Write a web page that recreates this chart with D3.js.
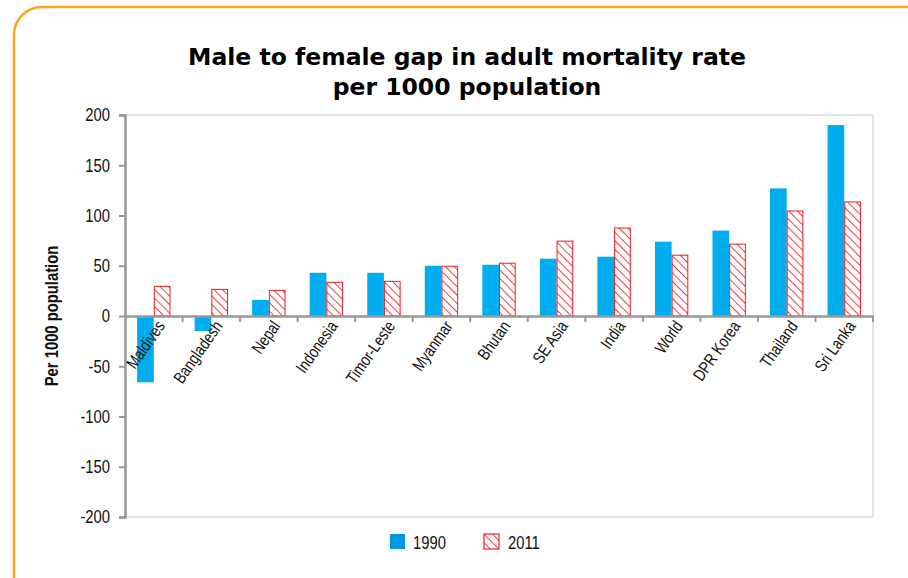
<!DOCTYPE html>
<html><head><meta charset="utf-8">
<script src="https://cdn.jsdelivr.net/npm/d3@7"></script>
<style>body{margin:0;background:#fff}</style>
</head><body>
<svg id="c" width="908" height="578"></svg>
<script>
const categories = ["Maldives","Bangladesh","Nepal","Indonesia","Timor-Leste","Myanmar","Bhutan","SE Asia","India","World","DPR Korea","Thailand","Sri Lanka"];
const values1990 = [-66,-15,16,43,43,50,51,57,59,74,85,127,190];
const values2011 = [30,27,26,34,35,50,53,75,88,61,72,105,114];
const seriesNames = ["1990","2011"];
const yTicks = [-200,-150,-100,-50,0,50,100,150,200];

const svg = d3.select("#c");
const narrow = "'Liberation Sans',Arial,sans-serif";
const SX = 0.8;

// frame
svg.append("rect").attr("x",14).attr("y",7).attr("width",920).attr("height",600)
  .attr("rx",28).attr("fill","#fff").attr("stroke","#F6A623").attr("stroke-width",2.5);

const defs = svg.append("defs");
const pat = defs.append("pattern").attr("id","hatch").attr("patternUnits","userSpaceOnUse")
  .attr("width",6).attr("height",6).attr("patternTransform","rotate(-45)");
pat.append("rect").attr("width",6).attr("height",6).attr("fill","#fff");
pat.append("line").attr("x1",0).attr("y1",0).attr("x2",0).attr("y2",6).attr("stroke","#ED1C24").attr("stroke-width",1.7);

const L=125, R=873, T=115, B=517;
const x = d3.scaleBand().domain(categories).range([L,R]).paddingInner(0).paddingOuter(0);
const y = d3.scaleLinear().domain([-200,200]).range([B,T]);
const bw = x.bandwidth()*0.29;

// plot border
svg.append("rect").attr("x",L).attr("y",T).attr("width",R-L).attr("height",B-T)
  .attr("fill","none").attr("stroke","#e3e3e3").attr("stroke-width",2);

// title
svg.append("text").attr("x",467).attr("y",65).attr("text-anchor","middle")
  .attr("font-family","'DejaVu Sans',sans-serif").attr("font-weight","bold").attr("font-size",23.5)
  .text("Male to female gap in adult mortality rate");
svg.append("text").attr("x",467).attr("y",95).attr("text-anchor","middle")
  .attr("font-family","'DejaVu Sans',sans-serif").attr("font-weight","bold").attr("font-size",23.5)
  .text("per 1000 population");

// bars
const g = svg.append("g");
categories.forEach((c,i)=>{
  const cx = x(c)+x.bandwidth()/2;
  const v1=values1990[i], v2=values2011[i];
  g.append("rect").attr("x",cx-bw).attr("width",bw)
    .attr("y",y(Math.max(0,v1))).attr("height",Math.abs(y(v1)-y(0)))
    .attr("fill","#00AEEF");
  g.append("rect").attr("x",cx+0.5).attr("width",bw-1)
    .attr("y",y(Math.max(0,v2))+0.5).attr("height",Math.abs(y(v2)-y(0))-0.5)
    .attr("fill","url(#hatch)").attr("stroke","#ED1C24").attr("stroke-width",1);
});

// y axis
const ya = svg.append("g").attr("transform",`translate(${L},0)`)
  .call(d3.axisLeft(y).tickValues(yTicks).tickFormat(d=>String(d)).tickSize(6).tickPadding(5));
ya.select(".domain").attr("stroke","#999").attr("stroke-width",2.5);
ya.selectAll(".tick line").attr("stroke","#999").attr("stroke-width",2);
ya.selectAll(".tick text").attr("font-family",narrow).attr("font-size",18.5).attr("fill","#111")
  .attr("x",-15/SX).attr("transform",`scale(${SX},1)`);

// zero axis
const xa = svg.append("g").attr("transform",`translate(0,${y(0)})`)
  .call(d3.axisBottom(x).tickSize(0).tickFormat(""));
xa.select(".domain").attr("stroke","#999").attr("stroke-width",2.5);
const bounds = categories.map(c=>x(c)).concat([R]).slice(1);
xa.selectAll(".bt").data(bounds).enter().append("line").attr("class","bt")
  .attr("x1",d=>d).attr("x2",d=>d).attr("y1",0).attr("y2",6).attr("stroke","#999").attr("stroke-width",2);
xa.selectAll(".lbl").data(categories).enter().append("text").attr("class","lbl")
  .attr("transform",d=>`translate(${x(d)+x.bandwidth()/2+12},${10}) rotate(-55) scale(${SX},1)`)
  .attr("text-anchor","end").attr("font-family",narrow).attr("font-size",17).attr("fill","#111")
  .text(d=>d);

// y title
svg.append("text").attr("transform",`translate(58,316) rotate(-90) scale(${SX},1)`).attr("text-anchor","middle")
  .attr("font-family",narrow).attr("font-weight","bold").attr("font-size",18.5).attr("fill","#111")
  .text("Per 1000 population");

// legend
const lg = svg.append("g");
lg.append("rect").attr("x",390).attr("y",534).attr("width",15).attr("height",15).attr("fill","#0099DD");
lg.append("text").attr("transform",`translate(413,549) scale(${SX},1)`).attr("font-family",narrow).attr("font-size",18.5).attr("fill","#111").text(seriesNames[0]);
lg.append("rect").attr("x",484).attr("y",534).attr("width",15).attr("height",15).attr("fill","url(#hatch)").attr("stroke","#ED1C24").attr("stroke-width",1.2);
lg.append("text").attr("transform",`translate(508,549) scale(${SX},1)`).attr("font-family",narrow).attr("font-size",18.5).attr("fill","#111").text(seriesNames[1]);
</script>
</body></html>
